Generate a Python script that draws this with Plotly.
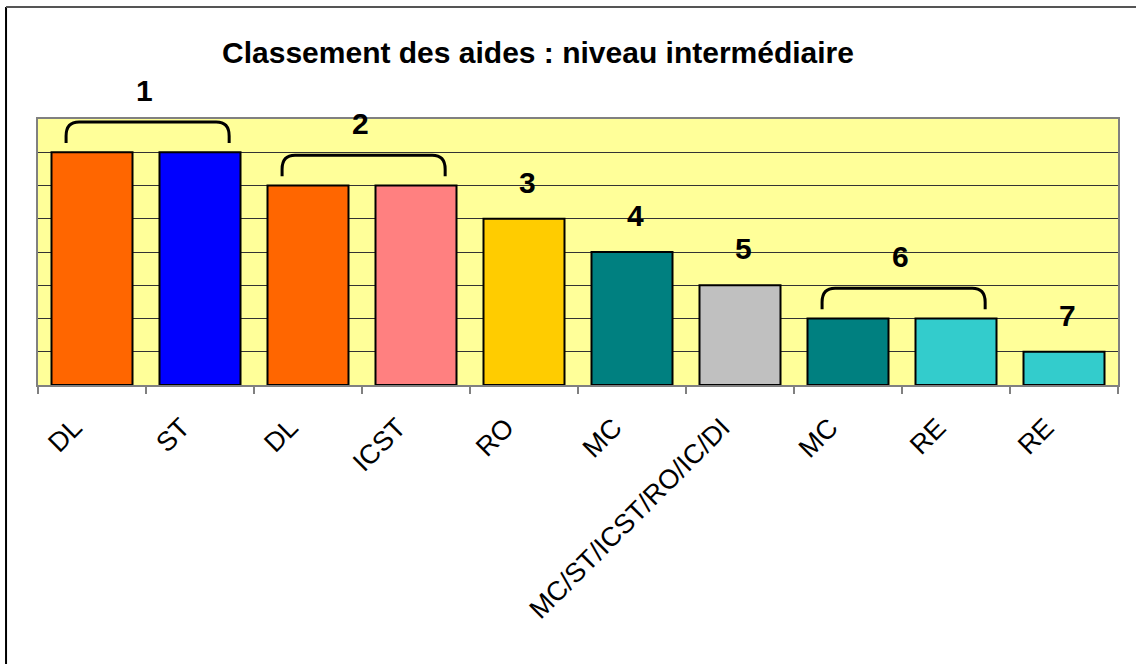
import plotly.graph_objects as go

# Aids ranked for the intermediate level
labels = ["DL", "ST", "DL", "ICST", "RO", "MC", "MC/ST/ICST/RO/IC/DI", "MC", "RE", "RE"]
scores = [7, 7, 6, 6, 5, 4, 3, 2, 2, 1]
colors = ["#FF6600", "#0000FF", "#FF6600", "#FF8080", "#FFCC00",
          "#008080", "#C0C0C0", "#008080", "#33CCCC", "#33CCCC"]

# Rank numbers and the bars each rank covers (first, last index)
ranks = ["1", "2", "3", "4", "5", "6", "7"]
rank_groups = [(0, 1), (2, 3), (4, 4), (5, 5), (6, 6), (7, 8), (9, 9)]

FONT = "Liberation Sans, Arial, sans-serif"
Y_MAX = 8
idx = list(range(len(labels)))

fig = go.Figure(go.Bar(
    x=idx, y=scores,
    marker=dict(color=colors, line=dict(color="#000000", width=2)),
    hoverinfo="skip",
))

shapes = []
annotations = []
for rank, (a, b) in zip(ranks, rank_groups):
    top = scores[a]
    if a != b:
        # curly bracket over a tied pair of bars
        x0, x1 = a - 0.24, b + 0.27
        yb, yt = top + 0.28, top + 0.91
        rx, ry = 0.12, 0.42
        path = (f"M {x0},{yb} L {x0},{yt - ry} Q {x0},{yt} {x0 + rx},{yt} "
                f"L {x1 - rx},{yt} Q {x1},{yt} {x1},{yt - ry} L {x1},{yb}")
        shapes.append(dict(type="path", xref="x", yref="y", path=path,
                           line=dict(color="#000000", width=3)))
        ax, ay = (x0 + x1) / 2 - 0.03, top + 1.85
    else:
        ax, ay = a + 0.03, top + 1.1
    # rank label; paper y so labels above the axis range stay visible
    annotations.append(dict(x=ax, y=ay / Y_MAX, xref="x", yref="paper",
                            xanchor="center", yanchor="middle",
                            text=f"<b>{rank}</b>", showarrow=False,
                            font=dict(family=FONT, size=30, color="#000000")))

# outer chart frame (left and top edges)
shapes.append(dict(type="line", xref="paper", yref="paper",
                   x0=-0.0296, x1=-0.0296, y0=1.421, y1=-1.1,
                   line=dict(color="#000000", width=2)))
shapes.append(dict(type="line", xref="paper", yref="paper",
                   x0=-0.0296, x1=1.05, y0=1.421, y1=1.421,
                   line=dict(color="#555555", width=2)))

fig.update_layout(
    width=1136, height=664,
    margin=dict(l=38, r=18, t=119, b=279),
    paper_bgcolor="#FFFFFF",
    plot_bgcolor="#FFFF99",
    bargap=0.25,
    showlegend=False,
    title=dict(text="<b>Classement des aides : niveau intermédiaire</b>",
               x=0.4736, xanchor="center", y=1 - 52 / 664, yanchor="middle",
               yref="container",
               font=dict(family=FONT, size=30, color="#000000")),
    shapes=shapes,
    annotations=annotations,
    xaxis=dict(
        range=[-0.5, len(labels) - 0.5],
        tickmode="array", tickvals=idx, ticktext=labels,
        tickangle=-45, ticks="", showgrid=False, zeroline=False,
        tickfont=dict(family=FONT, size=27, color="#000000"),
        ticklabelshift=-18, ticklabelstandoff=14,
        showline=True, linecolor="#808080", linewidth=2, mirror=True,
        minor=dict(tickmode="array",
                   tickvals=[i - 0.5 for i in range(len(labels) + 1)],
                   ticks="outside", ticklen=7, tickcolor="#808080", tickwidth=2,
                   showgrid=False),
    ),
    yaxis=dict(
        range=[0, Y_MAX], dtick=1, showticklabels=False, ticks="",
        showgrid=True, gridcolor="#333333", gridwidth=1, zeroline=False,
        showline=True, linecolor="#808080", linewidth=2, mirror=True,
    ),
)

fig.write_html("out.html")
